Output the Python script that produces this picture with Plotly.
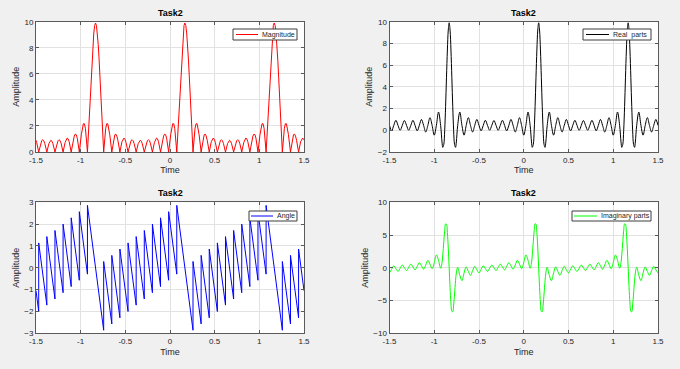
import plotly.graph_objects as go

# ---------------- data ----------------
x_tick_values = [-1.5, -1, -0.5, 0, 0.5, 1, 1.5]
x_tick_labels = ["-1.5", "-1", "-0.5", "0", "0.5", "1", "1.5"]

# Magnitude (top-left)
mag_time = [
    -1.5, -1.4924, -1.4697, -1.4469, -1.4356, -1.4242, -1.4128, -1.4015, -1.3788, -1.3560, -1.3447, -1.3333,
    -1.3219, -1.3106, -1.2878, -1.2651, -1.2538, -1.2424, -1.2310, -1.2197, -1.1969, -1.1742,
    -1.1628, -1.1515, -1.1401, -1.1288, -1.1060, -1.0833, -1.0719, -1.0606, -1.0492, -1.0378,
    -1.0151, -0.9924, -0.9810, -0.9697, -0.9583, -0.9469, -0.9242,
    -0.9133, -0.9033, -0.8933, -0.8833, -0.8733, -0.8633, -0.8533, -0.8433, -0.8333,
    -0.8233, -0.8133, -0.8033, -0.7933, -0.7833, -0.7733, -0.7633, -0.7533, -0.7424,
    -0.7197, -0.7083, -0.6969, -0.6856, -0.6742, -0.6515, -0.6288, -0.6174, -0.6060, -0.5947, -0.5833,
    -0.5606, -0.5378, -0.5265, -0.5151, -0.5038, -0.4924, -0.4697, -0.4469, -0.4356, -0.4242, -0.4128,
    -0.4015, -0.3788, -0.3560, -0.3447, -0.3333,
    -0.3219, -0.3106, -0.2878, -0.2651, -0.2538, -0.2424, -0.2310, -0.2197, -0.1969, -0.1742,
    -0.1628, -0.1515, -0.1401, -0.1288, -0.1060, -0.0833, -0.0719, -0.0606, -0.0492, -0.0378,
    -0.0151, 0.0076, 0.0190, 0.0303, 0.0417, 0.0531, 0.0758,
    0.0867, 0.0967, 0.1067, 0.1167, 0.1267, 0.1367, 0.1467, 0.1567, 0.1667,
    0.1767, 0.1867, 0.1967, 0.2067, 0.2167, 0.2267, 0.2367, 0.2467, 0.2576,
    0.2803, 0.2917, 0.3031, 0.3144, 0.3258, 0.3485, 0.3712, 0.3826, 0.3940, 0.4053, 0.4167,
    0.4394, 0.4622, 0.4735, 0.4849, 0.4962, 0.5076, 0.5303, 0.5531, 0.5644, 0.5758, 0.5872,
    0.5985, 0.6212, 0.6440, 0.6553, 0.6667,
    0.6781, 0.6894, 0.7122, 0.7349, 0.7462, 0.7576, 0.7690, 0.7803, 0.8031, 0.8258,
    0.8372, 0.8485, 0.8599, 0.8712, 0.8940, 0.9167, 0.9281, 0.9394, 0.9508, 0.9622,
    0.9849, 1.0076, 1.0190, 1.0303, 1.0417, 1.0531, 1.0758,
    1.0867, 1.0967, 1.1067, 1.1167, 1.1267, 1.1367, 1.1467, 1.1567, 1.1667,
    1.1767, 1.1867, 1.1967, 1.2067, 1.2167, 1.2267, 1.2367, 1.2467, 1.2576,
    1.2803, 1.2917, 1.3031, 1.3144, 1.3258, 1.3485, 1.3712, 1.3826, 1.3940, 1.4053, 1.4167,
    1.4394, 1.4622, 1.4735, 1.4849, 1.4962, 1.5,
]
magnitude = [
    0.90, 0.73, 0, 0.68, 0.88, 0.94, 0.86, 0.65, 0, 0.64, 0.83, 0.90,
    0.83, 0.64, 0, 0.65, 0.86, 0.94, 0.88, 0.68, 0, 0.73,
    0.97, 1.07, 1.01, 0.79, 0, 0.90, 1.22, 1.37, 1.33, 1.06,
    0, 1.33, 1.86, 2.17, 2.17, 1.82, 0,
    1.34, 2.73, 4.21, 5.69, 7.05, 8.24, 9.13, 9.71, 9.90,
    9.71, 9.13, 8.24, 7.05, 5.69, 4.21, 2.73, 1.34, 0,
    1.82, 2.17, 2.17, 1.86, 1.33, 0, 1.06, 1.33, 1.37, 1.22, 0.90,
    0, 0.79, 1.01, 1.07, 0.97, 0.73, 0, 0.68, 0.88, 0.94, 0.86,
    0.65, 0, 0.64, 0.83, 0.90,
    0.83, 0.64, 0, 0.65, 0.86, 0.94, 0.88, 0.68, 0, 0.73,
    0.97, 1.07, 1.01, 0.79, 0, 0.90, 1.22, 1.37, 1.33, 1.06,
    0, 1.33, 1.86, 2.17, 2.17, 1.82, 0,
    1.34, 2.73, 4.21, 5.69, 7.05, 8.24, 9.13, 9.71, 9.90,
    9.71, 9.13, 8.24, 7.05, 5.69, 4.21, 2.73, 1.34, 0,
    1.82, 2.17, 2.17, 1.86, 1.33, 0, 1.06, 1.33, 1.37, 1.22, 0.90,
    0, 0.79, 1.01, 1.07, 0.97, 0.73, 0, 0.68, 0.88, 0.94, 0.86,
    0.65, 0, 0.64, 0.83, 0.90,
    0.83, 0.64, 0, 0.65, 0.86, 0.94, 0.88, 0.68, 0, 0.73,
    0.97, 1.07, 1.01, 0.79, 0, 0.90, 1.22, 1.37, 1.33, 1.06,
    0, 1.33, 1.86, 2.17, 2.17, 1.82, 0,
    1.34, 2.73, 4.21, 5.69, 7.05, 8.24, 9.13, 9.71, 9.90,
    9.71, 9.13, 8.24, 7.05, 5.69, 4.21, 2.73, 1.34, 0,
    1.82, 2.17, 2.17, 1.86, 1.33, 0, 1.06, 1.33, 1.37, 1.22, 0.90,
    0, 0.79, 1.01, 1.07, 0.97, 0.90,
]

# Real and imaginary parts (right column) share one time grid
ri_time = [
    -1.5, -1.4762, -1.4524, -1.4286, -1.4048, -1.3810, -1.3571, -1.3333,
    -1.3095, -1.2857, -1.2619, -1.2381, -1.2143, -1.1905, -1.1667, -1.1429,
    -1.1190, -1.0952, -1.0714, -1.0476, -1.0238, -1.0, -0.9762, -0.9524,
    -0.9286, -0.9133, -0.9048, -0.8933, -0.8833, -0.8733, -0.8633, -0.8533, -0.8433, -0.8333,
    -0.8233, -0.8133, -0.8033, -0.7933, -0.7833, -0.7733, -0.7619, -0.7533, -0.7381,
    -0.7143, -0.6905, -0.6667, -0.6429, -0.6190, -0.5952, -0.5714, -0.5476, -0.5238,
    -0.5, -0.4762, -0.4524, -0.4286, -0.4048, -0.3810, -0.3571, -0.3333,
    -0.3095, -0.2857, -0.2619, -0.2381, -0.2143, -0.1905, -0.1667, -0.1429,
    -0.1190, -0.0952, -0.0714, -0.0476, -0.0238, 0.0, 0.0238, 0.0476,
    0.0714, 0.0867, 0.0952, 0.1067, 0.1167, 0.1267, 0.1367, 0.1467, 0.1567, 0.1667,
    0.1767, 0.1867, 0.1967, 0.2067, 0.2167, 0.2267, 0.2381, 0.2467, 0.2619,
    0.2857, 0.3095, 0.3333, 0.3571, 0.3810, 0.4048, 0.4286, 0.4524, 0.4762,
    0.5, 0.5238, 0.5476, 0.5714, 0.5952, 0.6190, 0.6429, 0.6667,
    0.6905, 0.7143, 0.7381, 0.7619, 0.7857, 0.8095, 0.8333, 0.8571,
    0.8810, 0.9048, 0.9286, 0.9524, 0.9762, 1.0, 1.0238, 1.0476,
    1.0714, 1.0867, 1.0952, 1.1067, 1.1167, 1.1267, 1.1367, 1.1467, 1.1567, 1.1667,
    1.1767, 1.1867, 1.1967, 1.2067, 1.2167, 1.2267, 1.2381, 1.2467, 1.2619,
    1.2857, 1.3095, 1.3333, 1.3571, 1.3810, 1.4048, 1.4286, 1.4524, 1.4762, 1.5,
]
real_part = [
    0.45, -0.05, 0.45, 0.92, 0.45, 0.00, 0.45, 0.90,
    0.45, 0.00, 0.45, 0.92, 0.45, -0.05, 0.45, 1.00,
    0.45, -0.16, 0.45, 1.17, 0.45, -0.45, 0.45, 1.68,
    0.45, -1.08, -1.57, -1.30, 0.00, 2.18, 4.84, 7.39, 9.23, 9.90,
    9.23, 7.39, 4.84, 2.18, 0.00, -1.30, -1.57, -1.08, 0.45,
    1.68, 0.45, -0.45, 0.45, 1.17, 0.45, -0.16, 0.45, 1.00,
    0.45, -0.05, 0.45, 0.92, 0.45, 0.00, 0.45, 0.90,
    0.45, 0.00, 0.45, 0.92, 0.45, -0.05, 0.45, 1.00,
    0.45, -0.16, 0.45, 1.17, 0.45, -0.45, 0.45, 1.68,
    0.45, -1.08, -1.57, -1.30, 0.00, 2.18, 4.84, 7.39, 9.23, 9.90,
    9.23, 7.39, 4.84, 2.18, 0.00, -1.30, -1.57, -1.08, 0.45,
    1.68, 0.45, -0.45, 0.45, 1.17, 0.45, -0.16, 0.45, 1.00,
    0.45, -0.05, 0.45, 0.92, 0.45, 0.00, 0.45, 0.90,
    0.45, 0.00, 0.45, 0.92, 0.45, -0.05, 0.45, 1.00,
    0.45, -0.16, 0.45, 1.17, 0.45, -0.45, 0.45, 1.68,
    0.45, -1.08, -1.57, -1.30, 0.00, 2.18, 4.84, 7.39, 9.23, 9.90,
    9.23, 7.39, 4.84, 2.18, 0.00, -1.30, -1.57, -1.08, 0.45,
    1.68, 0.45, -0.45, 0.45, 1.17, 0.45, -0.16, 0.45, 1.00, 0.45,
]
imag_part = [
    -0.78, -0.22, 0.31, -0.14, -0.56, -0.07, 0.42, 0.00,
    -0.42, 0.07, 0.56, 0.14, -0.31, 0.22, 0.78, 0.31,
    -0.22, 0.42, 1.15, 0.56, -0.14, 0.78, 1.97, 1.15,
    -0.07, 0.78, 1.97, 4.00, 5.68, 6.71, 6.66, 5.37, 3.00, 0.00,
    -3.00, -5.37, -6.66, -6.71, -5.68, -4.00, -1.97, -0.78, 0.07,
    -1.15, -1.97, -0.78, 0.14, -0.56, -1.15, -0.42, 0.22, -0.31,
    -0.78, -0.22, 0.31, -0.14, -0.56, -0.07, 0.42, 0.00,
    -0.42, 0.07, 0.56, 0.14, -0.31, 0.22, 0.78, 0.31,
    -0.22, 0.42, 1.15, 0.56, -0.14, 0.78, 1.97, 1.15,
    -0.07, 0.78, 1.97, 4.00, 5.68, 6.71, 6.66, 5.37, 3.00, 0.00,
    -3.00, -5.37, -6.66, -6.71, -5.68, -4.00, -1.97, -0.78, 0.07,
    -1.15, -1.97, -0.78, 0.14, -0.56, -1.15, -0.42, 0.22, -0.31,
    -0.78, -0.22, 0.31, -0.14, -0.56, -0.07, 0.42, 0.00,
    -0.42, 0.07, 0.56, 0.14, -0.31, 0.22, 0.78, 0.31,
    -0.22, 0.42, 1.15, 0.56, -0.14, 0.78, 1.97, 1.15,
    -0.07, 0.78, 1.97, 4.00, 5.68, 6.71, 6.66, 5.37, 3.00, 0.00,
    -3.00, -5.37, -6.66, -6.71, -5.68, -4.00, -1.97, -0.78, 0.07,
    -1.15, -1.97, -0.78, 0.14, -0.56, -1.15, -0.42, 0.22, -0.31, -0.78,
]

# Angle (bottom-left): sawtooth, jumps drawn as repeated times
angle_time = [
    -1.5, -1.4697, -1.4697, -1.3788, -1.3788, -1.2878, -1.2878, -1.1969, -1.1969,
    -1.1060, -1.1060, -1.0151, -1.0151, -0.9242, -0.9242, -0.7424, -0.7424,
    -0.6515, -0.6515, -0.5606, -0.5606, -0.4697, -0.4697, -0.3788, -0.3788,
    -0.2878, -0.2878, -0.1969, -0.1969, -0.1060, -0.1060, -0.0151, -0.0151,
    0.0758, 0.0758, 0.2576, 0.2576, 0.3485, 0.3485, 0.4394, 0.4394,
    0.5303, 0.5303, 0.6212, 0.6212, 0.7122, 0.7122, 0.8031, 0.8031,
    0.8940, 0.8940, 0.9849, 0.9849, 1.0758, 1.0758, 1.2576, 1.2576,
    1.3485, 1.3485, 1.4394, 1.4394, 1.5,
]
angle = [
    -1.05, -2.00, 1.14, -1.71, 1.43, -1.43, 1.71, -1.14, 2.00,
    -0.86, 2.29, -0.57, 2.57, -0.29, 2.86, -2.86, 0.29,
    -2.57, 0.57, -2.29, 0.86, -2.00, 1.14, -1.71, 1.43,
    -1.43, 1.71, -1.14, 2.00, -0.86, 2.29, -0.57, 2.57,
    -0.29, 2.86, -2.86, 0.29, -2.57, 0.57, -2.29, 0.86,
    -2.00, 1.14, -1.71, 1.43, -1.43, 1.71, -1.14, 2.00,
    -0.86, 2.29, -0.57, 2.57, -0.29, 2.86, -2.86, 0.29,
    -2.57, 0.57, -2.29, 0.86, -1.05,
]

y_ticks_mag = [0, 2, 4, 6, 8, 10]
y_ticks_real = [-2, 0, 2, 4, 6, 8, 10]
y_ticks_angle = [-3, -2, -1, 0, 1, 2, 3]
y_ticks_imag = [-10, -5, 0, 5, 10]

legend_labels = ["Magnitude", "Real\u00a0 parts", "Angle", "Imaginary parts"]
line_colors = ["#ff0000", "#000000", "#0000ff", "#00ff00"]

# ---------------- figure ----------------
W, H = 680, 369
FONT = "Liberation Sans, Arial, Helvetica, sans-serif"
AXC = "#5a5a5a"
TXT = "#262626"

fig = go.Figure()
fig.add_trace(go.Scatter(x=mag_time, y=magnitude, mode="lines", name=legend_labels[0],
                         line=dict(color=line_colors[0], width=1), xaxis="x", yaxis="y"))
fig.add_trace(go.Scatter(x=ri_time, y=real_part, mode="lines", name=legend_labels[1],
                         line=dict(color=line_colors[1], width=1, shape="spline", smoothing=1),
                         xaxis="x2", yaxis="y2"))
fig.add_trace(go.Scatter(x=angle_time, y=angle, mode="lines", name=legend_labels[2],
                         line=dict(color=line_colors[2], width=1), xaxis="x3", yaxis="y3"))
fig.add_trace(go.Scatter(x=ri_time, y=imag_part, mode="lines", name=legend_labels[3],
                         line=dict(color=line_colors[3], width=1, shape="spline", smoothing=1),
                         xaxis="x4", yaxis="y4"))

colL = [36 / W, 304 / W]
colR = [389.5 / W, 658 / W]
rowT = [(H - 152) / H, (H - 21.7) / H]
rowB = [(H - 333.3) / H, (H - 202.3) / H]


def xaxis(domain, anchor):
    return dict(domain=domain, anchor=anchor, range=[-1.5, 1.5],
                tickvals=x_tick_values, ticktext=x_tick_labels,
                showline=True, linecolor=AXC, linewidth=1, mirror="ticks",
                ticks="inside", ticklen=3, tickcolor=AXC,
                showgrid=True, gridcolor="#e2e2e2", gridwidth=1, zeroline=False,
                tickfont=dict(family=FONT, size=8, color=TXT), automargin=False,
                title=dict(text="Time", font=dict(family=FONT, size=9, color=TXT), standoff=3))


def yaxis(domain, anchor, rng, ticks):
    return dict(domain=domain, anchor=anchor, range=rng, tickvals=ticks,
                showline=True, linecolor=AXC, linewidth=1, mirror="ticks",
                ticks="inside", ticklen=3, tickcolor=AXC,
                showgrid=True, gridcolor="#e2e2e2", gridwidth=1, zeroline=False,
                tickfont=dict(family=FONT, size=8, color=TXT), automargin=False,
                title=dict(text="Amplitude", font=dict(family=FONT, size=9, color=TXT), standoff=3))


fig.update_layout(
    width=W, height=H, template="none",
    paper_bgcolor="#f0f0f0", plot_bgcolor="white",
    margin=dict(l=0, r=0, t=0, b=0),
    showlegend=False,
    xaxis=xaxis(colL, "y"), yaxis=yaxis(rowT, "x", [0, 10], y_ticks_mag),
    xaxis2=xaxis(colR, "y2"), yaxis2=yaxis(rowT, "x2", [-2, 10], y_ticks_real),
    xaxis3=xaxis(colL, "y3"), yaxis3=yaxis(rowB, "x3", [-3, 3], y_ticks_angle),
    xaxis4=xaxis(colR, "y4"), yaxis4=yaxis(rowB, "x4", [-10, 10], y_ticks_imag),
)

# subplot titles
for dom, ytop in [(colL, 21.7), (colR, 21.7), (colL, 202.3), (colR, 202.3)]:
    fig.add_annotation(text="<b>Task2</b>", x=(dom[0] + dom[1]) / 2, y=(H - ytop + 9) / H,
                       xref="paper", yref="paper", showarrow=False, xanchor="center",
                       yanchor="middle", font=dict(family=FONT, size=9, color="#000000"))

# in-axes legend boxes (MATLAB style): box, line sample, label
legend_boxes = [  # left, top, right, bottom, line start, line end (pixels)
    (233, 29, 297, 40, 236, 258),
    (583, 29, 651, 40, 586, 609),
    (249, 211, 297, 221, 251, 273),
    (572, 211, 651, 221, 574, 597),
]


def px(x):
    return x / W


def py(y):
    return (H - y) / H


for (l, t, r, b, ls, le), label, col in zip(legend_boxes, legend_labels, line_colors):
    fig.add_shape(type="rect", xref="paper", yref="paper", x0=px(l), x1=px(r), y0=py(b), y1=py(t),
                  fillcolor="white", line=dict(color="#3c3c3c", width=1), layer="above")
    ym = (t + b) / 2
    fig.add_shape(type="line", xref="paper", yref="paper", x0=px(ls), x1=px(le), y0=py(ym), y1=py(ym),
                  line=dict(color=col, width=1), layer="above")
    fig.add_annotation(text=label, x=px(le + 2), y=py(ym), xref="paper", yref="paper",
                       showarrow=False, xanchor="left", yanchor="middle",
                       font=dict(family=FONT, size=7, color=TXT))

fig.write_html("out.html", config={"displayModeBar": False},
               post_script="document.body.style.margin='0px';")
